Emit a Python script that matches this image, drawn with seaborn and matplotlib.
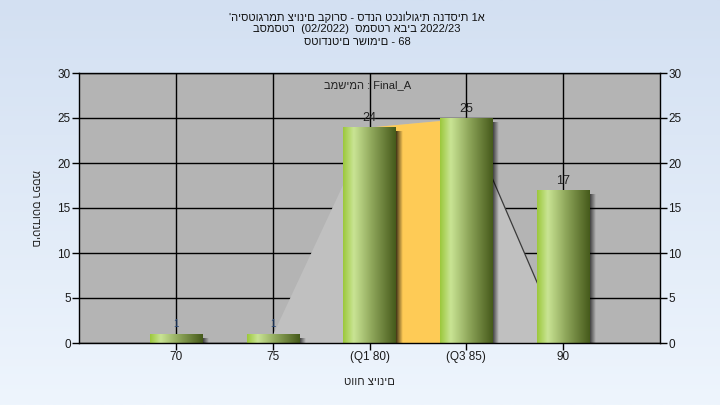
import numpy as np
import pandas as pd
import matplotlib
matplotlib.use("Agg")
from matplotlib import pyplot as plt
from matplotlib.colors import LinearSegmentedColormap
import seaborn as sns

# data
grade_labels = ["70", "75", "(Q1 80)", "(Q3 85)", "90"]
student_counts = [1, 1, 24, 25, 17]
# light grey background polygon (distribution outline) and the Q1-Q3 band
curve_x = [1, 2, 3, 4]
curve_y = [1, 24, 25, 0]
iqr_x = [2, 3]
iqr_y = [24, 25]

title_lines = [
    "'היסטוגרמת ציונים בקורס - סדנה טכנולוגית הנדסית 1א",
    "בסמסטר  (02/2022)  סמסטר אביב 2022/23",
    "סטודנטים רשומים - 68",
]
task_text = "במשימה : Final_A"
x_title = "טווח ציונים"
y_title = "מספר סטודנטים"

sns.set_theme(style="white")
plt.rcParams["font.family"] = ["Liberation Sans", "DejaVu Sans"]

fig = plt.figure(figsize=(7.2, 4.05), dpi=100)

# figure background gradient
bg = fig.add_axes([0, 0, 1, 1], zorder=-5)
bg_cmap = LinearSegmentedColormap.from_list("bg", ["#d3e0f2", "#eef5fd"])
bg.imshow(np.linspace(0, 1, 256).reshape(-1, 1), aspect="auto", cmap=bg_cmap,
          extent=[0, 1, 0, 1])
bg.set_axis_off()

ax = fig.add_axes([79 / 720, 1 - 343 / 405, 581 / 720, 270 / 405])
ax.set_facecolor("#b4b4b4")

df = pd.DataFrame({"grade": grade_labels, "count": student_counts})
sns.barplot(data=df, x="grade", y="count", color="#9cc83c", width=0.54,
            ax=ax, zorder=3, saturation=1)

# background shapes (drawn over the grid, like the reference)
ax.fill_between(curve_x, 0, curve_y, color="#c0c0c0", zorder=1, linewidth=0)
ax.fill_between(iqr_x, 0, iqr_y, color="#fecb56", zorder=1.5, linewidth=0)
ax.plot(curve_x[2:], curve_y[2:], color="#3a3a3a", lw=0.9, zorder=1.6)

# gradient fill + shadow for each bar
bar_cmap = LinearSegmentedColormap.from_list(
    "bar", [(0, "#9cc83c"), (0.2, "#c9e494"), (0.55, "#8ea65a"), (1, "#465a1b")])
grad = np.linspace(0, 1, 128).reshape(1, -1)
shadow = np.zeros((1, 32, 4))
shadow[..., 3] = np.linspace(0.75, 0, 32)
for p, v in zip(ax.patches, student_counts):
    x0, w, h = p.get_x(), p.get_width(), p.get_height()
    ax.imshow(shadow, extent=[x0 + w, x0 + w + 0.07, 0, max(h - 0.45, 0.2)],
              aspect="auto", zorder=2.5)
    ax.imshow(grad, extent=[x0, x0 + w, 0, h], aspect="auto", cmap=bar_cmap,
              zorder=3.2)
    p.set_visible(False)
    if v > 1:
        ax.text(x0 + w / 2, h + 0.3, str(v), ha="center", va="bottom",
                fontsize=9, color="#222222", zorder=5)
    else:
        ax.text(x0 + w / 2, h + 0.6, str(v), ha="center", va="bottom",
                fontsize=7, color="#2a4a7a", zorder=5)

ax.set_xlim(-1, 5)
ax.set_ylim(0, 30)
ax.set_yticks(range(0, 31, 5))
ax.grid(True, color="black", lw=1)
ax.set_axisbelow(True)

for s in ax.spines.values():
    s.set_color("black")
    s.set_linewidth(1)
    s.set_zorder(6)
ax.tick_params(axis="both", length=5, width=1, color="black", labelsize=8.5,
               labelcolor="#1a1a1a", direction="out", pad=1)
ax.tick_params(axis="y", left=True)
ax.tick_params(axis="x", bottom=True)

ax2 = ax.twinx()
ax2.set_ylim(0, 30)
ax2.set_yticks(range(0, 31, 5))
ax2.tick_params(axis="y", length=5, width=1, color="black", labelsize=8.5,
                labelcolor="#1a1a1a", direction="out", pad=1, right=True)
for s in ax2.spines.values():
    s.set_visible(False)
ax2.grid(False)

ax.set_xlabel(x_title, fontsize=8, color="#222222", labelpad=10)
ax.set_ylabel(y_title, fontsize=8, color="#222222", rotation=270,
              labelpad=26, va="center")
ax.yaxis.set_label_coords(-0.075, 0.5)

ax.text(0.497, 0.955, task_text, transform=ax.transAxes, ha="center",
        va="center", fontsize=8, color="#222222", zorder=6)

for i, line in enumerate(title_lines):
    fig.text(0.496, 1 - (17 + 12.5 * i) / 405, line, ha="center", va="center",
             fontsize=8, color="#111111")

fig.savefig("out.png", dpi=100)
